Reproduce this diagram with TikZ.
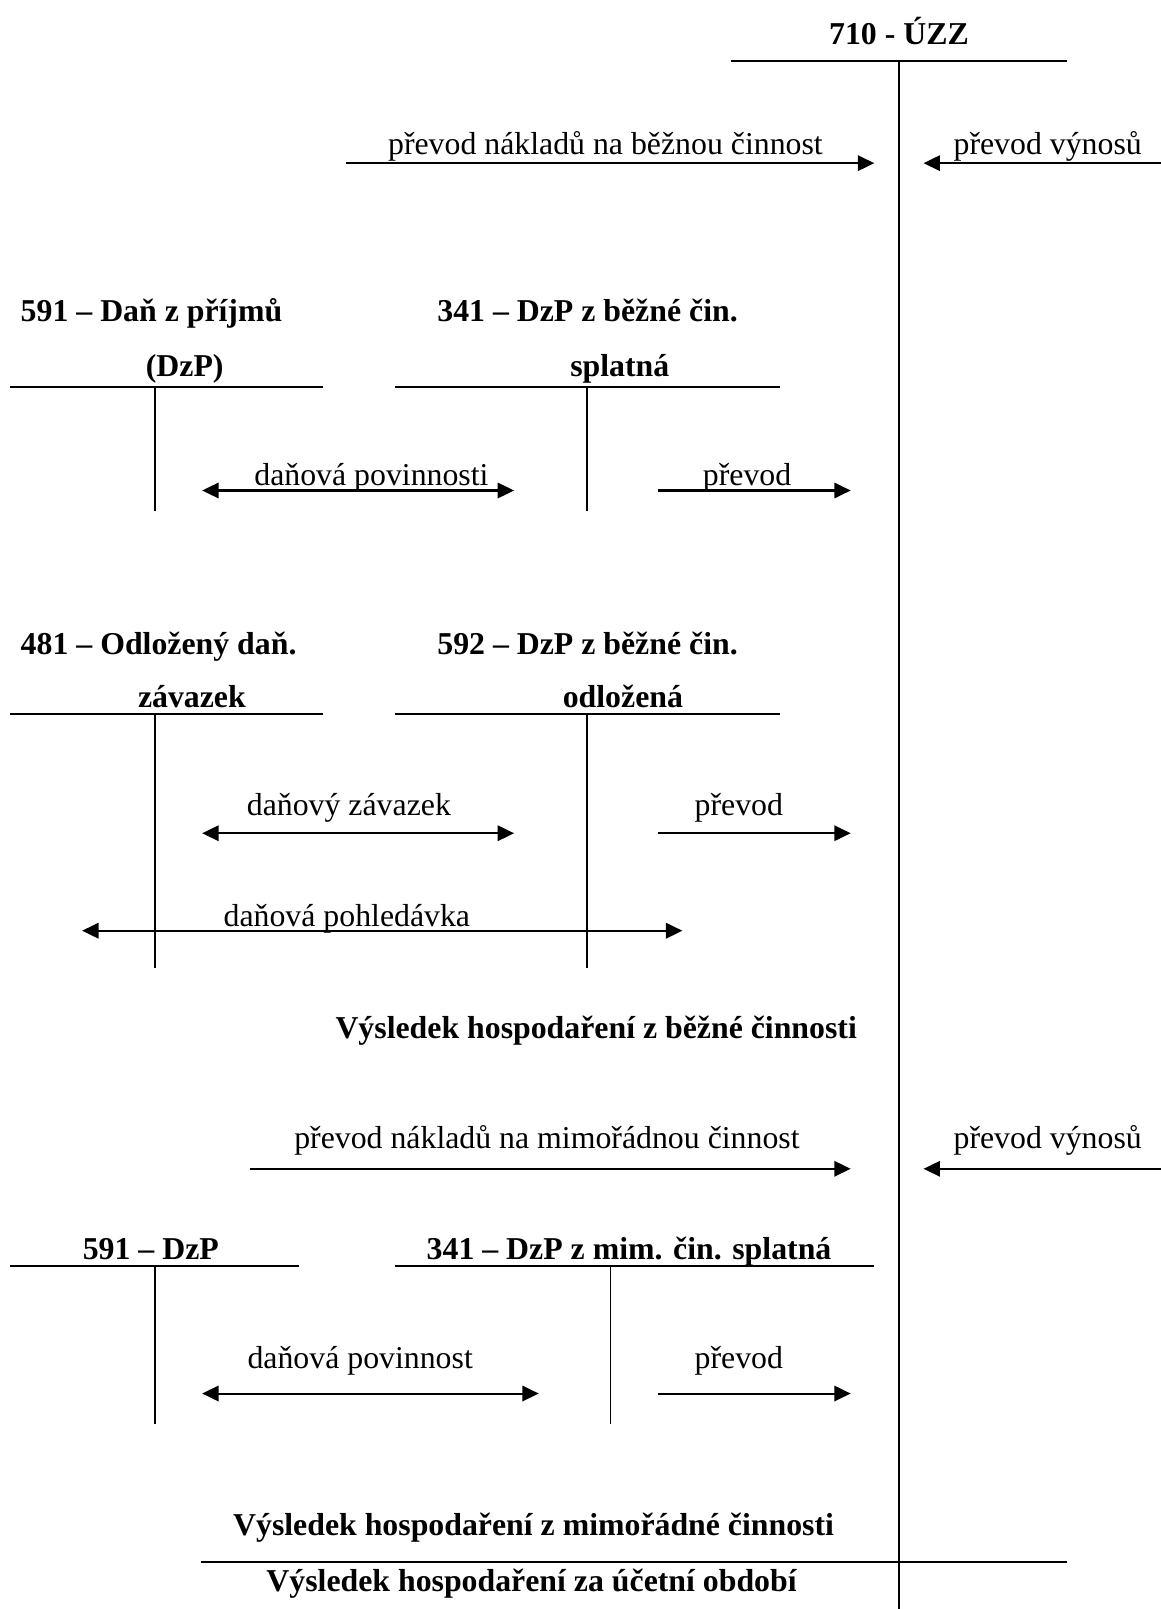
\documentclass[tikz,border=0pt]{standalone}
\usepackage{fontspec}
\setmainfont{Liberation Serif}
\usetikzlibrary{arrows.meta}
\begin{document}
\begin{tikzpicture}[x=1pt,y=-1pt,
  lbl/.style={inner sep=0pt, anchor=base, font=\fontsize{31}{37}\selectfont},
  hdr/.style={inner sep=0pt, anchor=base, font=\fontsize{31}{37}\selectfont\bfseries},
  hdrl/.style={hdr, anchor=base west},
  arr/.style={line width=2pt, -{Triangle[length=16pt,width=15pt]}},
  darr/.style={line width=2pt, {Triangle[length=16pt,width=15pt]}-{Triangle[length=16pt,width=15pt]}},
  hline/.style={line width=2pt},
  vline/.style={line width=1.3pt},
  mline/.style={line width=2pt}]
\useasboundingbox (0,0) rectangle (1131,1568);

% main account 710
\node[hdr] (t710) at (876,43) {710 - ÚZZ};
\draw[hline] (712,59) -- (1040,59);
\draw[mline] (876,59) -- (876,1568);

% row 1
\coordinate (a1s) at (337,159); \coordinate (a1e) at (852,159);
\node[lbl] (l1) at (590,151) {převod nákladů na běžnou činnost};
\draw[arr] (a1s) -- (a1e);
\coordinate (a2s) at (1131,159); \coordinate (a2e) at (900,159);
\node[lbl] (l2) at (1021,151) {převod výnosů};
\draw[arr] (a2s) -- (a2e);

% 591 / 341 block
\node[hdrl] (h591) at (20,313) {591 – Daň z příjmů};
\node[hdr] (h591b) at (180,367) {(DzP)};
\draw[hline] (10,377) -- (315,377);
\draw[vline] (151,377) -- (151,498);
\node[hdrl] (h341) at (426,313) {341 – DzP z běžné čin.};
\node[hdr] (h341b) at (604,367) {splatná};
\draw[hline] (385,377) -- (760,377);
\draw[vline] (572,377) -- (572,498);
\coordinate (b1s) at (197,478); \coordinate (b1e) at (501,478);
\draw[darr] (b1s) -- (b1e);
\node[lbl] (l3) at (362,473) {daňová povinnosti};
\coordinate (b2s) at (641,478); \coordinate (b2e) at (829,478);
\draw[arr] (b2s) -- (b2e);
\node[lbl] (l4) at (728,473) {převod};

% 481 / 592 block
\node[hdrl] (h481) at (20,638) {481 – Odložený daň.};
\node[hdr] (h481b) at (187,689) {závazek};
\draw[hline] (10,696) -- (315,696);
\draw[vline] (151,696) -- (151,943);
\node[hdrl] (h592) at (426,638) {592 – DzP z běžné čin.};
\node[hdr] (h592b) at (607,689) {odložená};
\draw[hline] (385,696) -- (760,696);
\draw[vline] (572,696) -- (572,943);
\coordinate (c1s) at (197,812); \coordinate (c1e) at (501,812);
\draw[darr] (c1s) -- (c1e);
\node[lbl] (l5) at (340,795) {daňový závazek};
\coordinate (c2s) at (641,812); \coordinate (c2e) at (829,812);
\draw[arr] (c2s) -- (c2e);
\node[lbl] (l6) at (720,795) {převod};
\coordinate (c3s) at (80,907); \coordinate (c3e) at (665,907);
\draw[darr] (c3s) -- (c3e);
\node[lbl] (l7) at (338,903) {daňová pohledávka};

\node[hdr] (vh1) at (581,1012) {Výsledek hospodaření z běžné činnosti};

% extraordinary
\node[lbl] (l8) at (533,1119) {převod nákladů na mimořádnou činnost};
\coordinate (d1s) at (244,1139); \coordinate (d1e) at (829,1139);
\draw[arr] (d1s) -- (d1e);
\node[lbl] (l9) at (1021,1119) {převod výnosů};
\coordinate (d2s) at (1131,1139); \coordinate (d2e) at (900,1139);
\draw[arr] (d2s) -- (d2e);

\node[hdr] (h591c) at (147,1227) {591 – DzP};
\draw[hline] (10,1234) -- (291,1234);
\draw[vline] (151,1234) -- (151,1388);
\node[hdr] (h341c) at (613,1227) {341 – DzP z mim. čin. splatná};
\draw[hline] (385,1234) -- (852,1234);
\draw[vline] (595,1234) -- (595,1388);
\node[lbl] (l10) at (351,1334) {daňová povinnost};
\coordinate (e1s) at (197,1358); \coordinate (e1e) at (525,1358);
\draw[darr] (e1s) -- (e1e);
\node[lbl] (l11) at (720,1334) {převod};
\coordinate (e2s) at (641,1358); \coordinate (e2e) at (829,1358);
\draw[arr] (e2s) -- (e2e);

\node[hdr] (vh2) at (520,1496) {Výsledek hospodaření z mimořádné činnosti};
\draw[hline] (196,1522) -- (1040,1522);
\node[hdr] (vh3) at (518,1551) {Výsledek hospodaření za účetní období};
\end{tikzpicture}
\end{document}
